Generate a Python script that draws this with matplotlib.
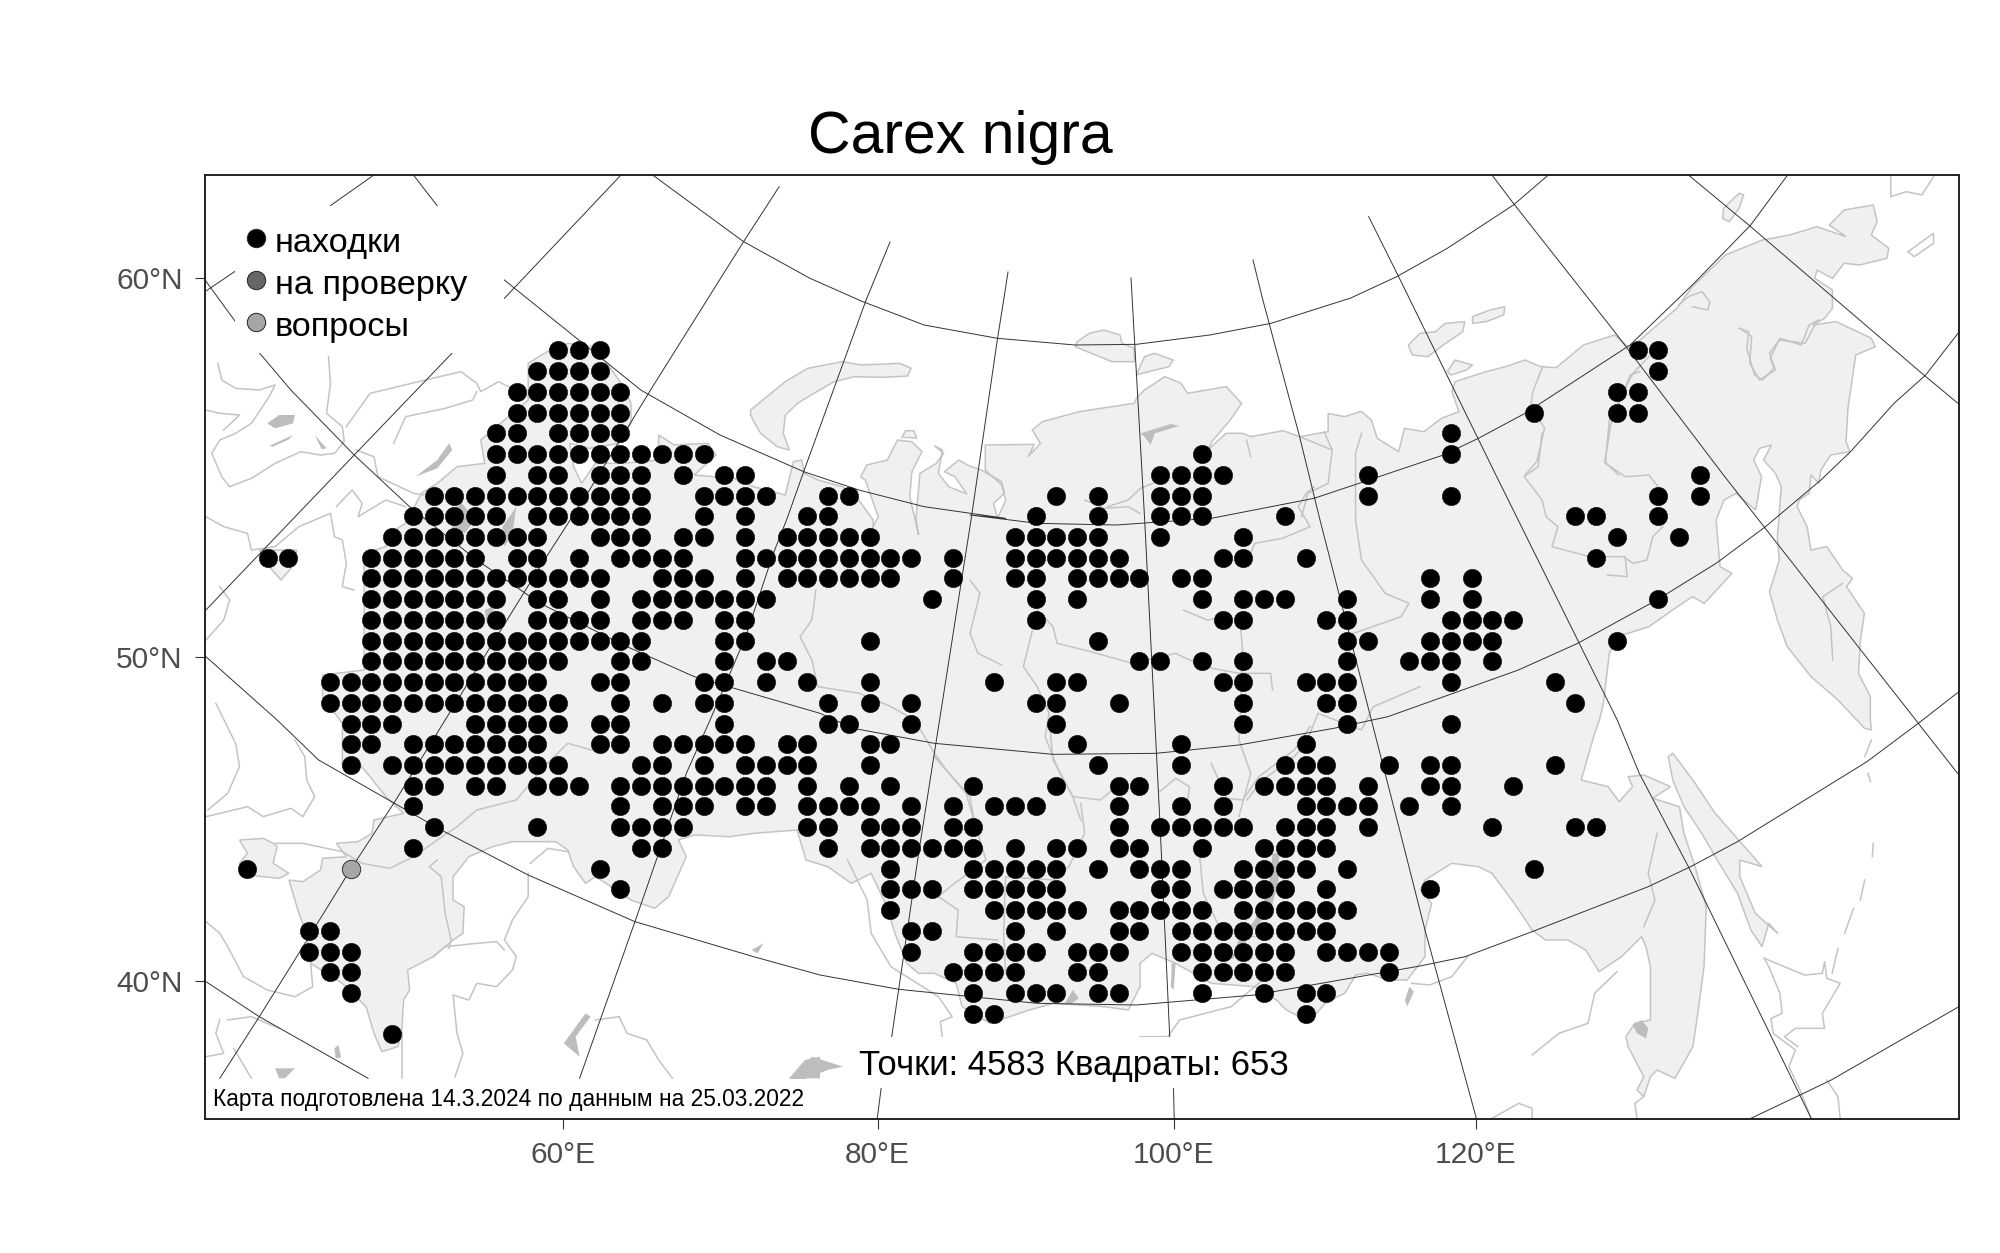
import matplotlib
matplotlib.use('Agg')
from matplotlib import pyplot as plt
from matplotlib.patches import Polygon, Rectangle

plt.rcParams['font.family'] = ['Liberation Sans', 'DejaVu Sans']

title = 'Carex nigra'
legend_labels = ['находки', 'на проверку', 'вопросы']
legend_colors = ['#000000', '#666666', '#a6a6a6']
count_text = 'Точки: 4583 Квадраты: 653'
date_text = 'Карта подготовлена 14.3.2024 по данным на 25.03.2022'

lon_labels = ['60°E', '80°E', '100°E', '120°E']
lon_ticks = [562.5, 877.5, 1173.5, 1476]
lat_labels = ['60°N', '50°N', '40°N']
lat_ticks = [278, 657, 981]

# occupied squares, one list of columns per row of the grid
row00 = [15, 16, 17, 67, 68]
row01 = [14, 15, 16, 17, 68]
row02 = [13, 14, 15, 16, 17, 18, 66, 67]
row03 = [13, 14, 15, 16, 17, 18, 62, 66, 67]
row04 = [12, 13, 15, 16, 17, 18, 58]
row05 = [12, 13, 14, 15, 16, 17, 18, 19, 20, 21, 22, 46, 58]
row06 = [12, 14, 15, 17, 18, 19, 21, 23, 24, 44, 45, 46, 47, 54, 70]
row07 = [9, 10, 11, 12, 13, 14, 15, 16, 17, 18, 19, 22, 23, 24, 25, 28, 29, 39, 41, 44, 45, 46, 54, 58, 68, 70]
row08 = [8, 9, 10, 11, 12, 14, 15, 16, 17, 18, 19, 22, 24, 27, 28, 38, 41, 44, 45, 46, 50, 64, 65, 68]
row09 = [7, 8, 9, 10, 11, 12, 13, 14, 17, 18, 19, 21, 22, 24, 26, 27, 28, 29, 30, 37, 38, 39, 40, 41, 44, 48, 66, 69]
row10 = [1, 2, 6, 7, 8, 9, 10, 11, 13, 14, 16, 18, 19, 20, 21, 24, 25, 26, 27, 28, 29, 30, 31, 32, 34, 37, 38, 39, 40, 41, 42, 47, 48, 51, 65]
row11 = [6, 7, 8, 9, 10, 11, 12, 13, 14, 15, 16, 17, 20, 21, 22, 24, 26, 27, 28, 29, 30, 31, 34, 37, 38, 40, 41, 42, 43, 45, 46, 57, 59]
row12 = [6, 7, 8, 9, 10, 11, 12, 14, 15, 17, 19, 20, 21, 22, 23, 24, 25, 33, 38, 40, 46, 48, 49, 50, 53, 57, 59, 68]
row13 = [6, 7, 8, 9, 10, 11, 12, 14, 15, 16, 17, 19, 20, 21, 23, 24, 38, 47, 48, 52, 53, 58, 59, 60, 61]
row14 = [6, 7, 8, 9, 10, 11, 12, 13, 14, 15, 16, 17, 18, 19, 23, 24, 30, 41, 53, 54, 57, 58, 59, 60, 66]
row15 = [6, 7, 8, 9, 10, 11, 12, 13, 14, 15, 18, 19, 23, 25, 26, 43, 44, 46, 48, 53, 56, 57, 58, 60]
row16 = [4, 5, 6, 7, 8, 9, 10, 11, 12, 13, 14, 17, 18, 22, 23, 25, 27, 30, 36, 39, 40, 47, 48, 51, 52, 53, 58, 63]
row17 = [4, 5, 6, 7, 8, 9, 10, 11, 12, 13, 14, 15, 18, 20, 22, 23, 28, 30, 32, 38, 39, 42, 48, 52, 53, 64]
row18 = [5, 6, 7, 11, 12, 13, 14, 15, 17, 18, 23, 28, 29, 32, 39, 48, 53, 58]
row19 = [5, 6, 8, 9, 10, 11, 12, 13, 14, 17, 18, 20, 21, 22, 23, 24, 26, 27, 30, 31, 40, 45, 51]
row20 = [5, 7, 8, 9, 10, 11, 12, 13, 14, 15, 19, 20, 22, 24, 25, 26, 27, 30, 41, 45, 50, 51, 52, 55, 57, 58, 63]
row21 = [8, 9, 11, 12, 14, 15, 16, 18, 19, 20, 21, 22, 23, 24, 25, 27, 29, 31, 35, 39, 42, 43, 47, 49, 50, 51, 52, 54, 57, 58, 61]
row22 = [8, 18, 20, 21, 22, 24, 25, 27, 28, 29, 30, 32, 34, 36, 37, 38, 42, 45, 47, 51, 52, 53, 54, 56, 58]
row23 = [9, 14, 18, 19, 20, 21, 27, 28, 30, 31, 32, 34, 35, 42, 44, 45, 46, 47, 48, 50, 51, 52, 54, 60, 64, 65]
row24 = [8, 19, 20, 28, 30, 31, 32, 33, 34, 35, 37, 39, 40, 42, 43, 46, 49, 50, 51, 52]
row25 = [0, 17, 31, 35, 36, 37, 38, 39, 41, 43, 44, 45, 48, 49, 50, 51, 53, 62]
row26 = [18, 31, 32, 33, 35, 36, 37, 38, 39, 44, 45, 47, 48, 49, 50, 52, 57]
row27 = [31, 36, 37, 38, 39, 40, 42, 43, 44, 45, 46, 48, 49, 50, 51, 52, 53]
row28 = [3, 4, 32, 33, 37, 39, 42, 43, 45, 46, 47, 48, 49, 50, 51, 52]
row29 = [3, 4, 5, 32, 35, 36, 37, 38, 40, 41, 42, 45, 46, 47, 48, 49, 50, 52, 53, 54, 55]
row30 = [4, 5, 34, 35, 36, 37, 40, 41, 46, 47, 48, 49, 50, 55]
row31 = [5, 35, 37, 38, 39, 41, 42, 46, 49, 51, 52]
row32 = [35, 36, 51]
row33 = [7]
found_rows = [row00, row01, row02, row03, row04, row05, row06, row07, row08, row09, row10, row11,
              row12, row13, row14, row15, row16, row17, row18, row19, row20, row21, row22, row23,
              row24, row25, row26, row27, row28, row29, row30, row31, row32, row33]
question_col = [5]
question_row = [25]

# crops the outlines were read from: left, top, width
Z1 = (200, 320, 620)
Z2 = (200, 700, 620)
Z3 = (800, 420, 620)
Z4 = (800, 720, 620)
Z5 = (1380, 320, 620)
Z6 = (1300, 700, 700)
Z7 = (190, 170, 620)
Z8 = (1350, 175, 610)
Z9 = (720, 300, 640)
Z10 = (200, 1020, 1200)


def crop(z, pts):
    return [(z[0] + p * z[2] / 1568, z[1] + q / 3) for p, q in pts]


land_main = (
    crop(Z1, [(885, 90), (930, 70), (990, 80), (1030, 130), (1065, 190), (1090, 250), (1090, 310), (1060, 370),
              (985, 385), (935, 370), (945, 440), (965, 490), (1000, 430), (1060, 430), (1120, 425), (1160, 420),
              (1160, 345), (1200, 375), (1285, 370), (1305, 405), (1250, 465), (1350, 475), (1400, 500), (1480, 525)])
    + crop(Z9, [(180, 485), (200, 480), (207, 520), (240, 540), (300, 560), (340, 600)])
    + crop(Z3, [(185, 300), (185, 322), (172, 350), (198, 290), (165, 180)])
    + crop(Z9, [(345, 530), (360, 495), (410, 480), (435, 420), (470, 425), (495, 455), (470, 515), (465, 590)])
    + crop(Z3, [(300, 345)])
    + crop(Z9, [(480, 655), (490, 520), (530, 490), (548, 460), (525, 437), (545, 450), (535, 520), (560, 560),
                (605, 582), (575, 530), (550, 515), (585, 480), (610, 497), (640, 510), (690, 545), (697, 580),
                (670, 610), (680, 655), (700, 600), (690, 555), (650, 510), (650, 435), (770, 433), (755, 470),
                (785, 430), (765, 390), (790, 365), (880, 335), (960, 320), (1015, 310), (1020, 295), (1040, 270),
                (1090, 230), (1130, 250), (1145, 280), (1240, 260), (1278, 310), (1250, 360), (1205, 425),
                (1195, 450), (1240, 400), (1280, 400), (1300, 410), (1380, 392), (1420, 410), (1490, 395),
                (1490, 340), (1530, 350), (1568, 335)])
    + crop(Z8, [(30, 710), (55, 735), (70, 790), (125, 830), (140, 760), (190, 770), (235, 730), (280, 710),
                (262, 650), (270, 620), (350, 590), (400, 575), (450, 555), (490, 575), (530, 578), (600, 510),
                (680, 480), (720, 520), (760, 480), (800, 440), (840, 400), (880, 335), (925, 285), (965, 240),
                (1060, 195), (1130, 180), (1200, 155), (1275, 185), (1232, 150), (1270, 105), (1345, 90),
                (1355, 140), (1340, 180), (1385, 220), (1380, 250), (1310, 270), (1270, 265), (1240, 310),
                (1200, 285), (1195, 310), (1240, 345), (1240, 400), (1220, 430), (1190, 450), (1250, 440),
                (1340, 490), (1350, 515), (1300, 540), (1290, 620), (1280, 700), (1275, 800), (1285, 830)])
    + crop(Z5, [(1140, 405), (1115, 450), (1110, 490), (1090, 465), (1085, 520), (1060, 540), (1055, 560),
                (1080, 620), (1090, 690), (1130, 680), (1170, 750), (1195, 775), (1180, 800), (1225, 880),
                (1215, 960), (1210, 1060), (1240, 1130), (1240, 1200)])
    + crop(Z6, [(1280, 90), (1265, 85), (1240, 50), (1205, 0)])
    + crop(Z5, [(1090, 1070), (1030, 980), (1005, 900), (985, 815), (1010, 720), (1005, 650), (1015, 500),
                (1000, 460), (970, 420), (990, 375), (960, 385), (945, 420), (965, 470), (950, 570), (900, 520),
                (870, 540), (850, 600), (860, 740), (890, 760), (820, 850), (790, 830), (740, 870), (680, 920),
                (600, 950), (580, 1000), (565, 1150), (555, 1200)])
    + crop(Z6, [(660, 100), (630, 240), (690, 260), (715, 305), (745, 260), (735, 230), (770, 225), (830, 260),
                (790, 295), (850, 320), (860, 400), (885, 500), (910, 620), (905, 800), (890, 950), (880, 1040),
                (840, 1135), (800, 1110), (785, 1130), (770, 1190), (755, 1170), (770, 1130), (735, 1040),
                (730, 1010), (750, 970), (785, 960), (785, 800), (775, 740), (765, 710), (720, 770), (670, 815),
                (640, 750), (600, 720), (550, 720), (520, 690), (480, 610), (430, 520), (400, 500), (340, 490),
                (280, 540), (270, 570), (295, 610), (280, 690), (280, 770), (240, 840), (200, 840), (150, 820),
                (125, 825), (100, 880), (60, 905), (20, 965)])
    + crop(Z4, [(1230, 870), (1205, 840), (1150, 800), (1040, 790), (950, 730), (890, 700), (860, 730), (860, 800),
                (830, 870), (770, 860), (640, 850), (580, 870), (530, 890), (480, 910), (410, 860), (395, 790),
                (340, 760), (300, 760), (270, 730), (240, 640), (220, 560), (180, 460), (130, 490), (70, 440),
                (15, 420)])
    + crop(Z2, [(1530, 470), (1510, 390), (1400, 400), (1340, 410), (1250, 405), (1210, 420), (1230, 470),
                (1185, 590), (1150, 625), (1090, 600), (1040, 560), (1000, 530), (975, 550), (945, 500), (930, 450),
                (900, 425), (790, 425), (740, 440), (680, 470), (640, 530), (640, 600), (668, 620), (665, 700),
                (640, 720), (590, 770), (525, 810), (530, 870), (515, 900), (510, 1000), (500, 1040), (460, 1055),
                (440, 1000), (420, 920), (360, 850), (280, 790), (270, 700), (250, 640), (230, 560), (225, 540),
                (260, 545), (305, 510), (310, 475), (370, 470), (345, 430), (400, 425), (435, 400), (440, 360),
                (515, 340), (470, 290), (430, 230), (405, 195), (360, 195), (360, 70)])
    + crop(Z1, [(310, 1130), (310, 1065), (415, 1050), (415, 700), (470, 680), (480, 640), (520, 610), (560, 520),
                (600, 490), (650, 440), (720, 430), (710, 360), (760, 310), (830, 240), (830, 130)])
)

land_islands = [
    crop(Z2, [(100, 420), (160, 415), (185, 430), (195, 440), (185, 490), (225, 520), (200, 535), (120, 525),
              (100, 490), (120, 460)]),
    crop(Z1, [(150, 690), (245, 690), (230, 745), (205, 780), (175, 740)]),
    crop(Z9, [(75, 330), (120, 285), (160, 245), (215, 205), (300, 185), (345, 195), (440, 190), (468, 205),
              (460, 228), (400, 232), (330, 230), (280, 245), (230, 280), (190, 310), (160, 345), (155, 400),
              (170, 450), (140, 440), (100, 400), (85, 370), (75, 345)]),
    crop(Z9, [(875, 125), (905, 100), (940, 90), (980, 105), (985, 130), (1015, 145), (1015, 185), (960, 185),
              (920, 165), (870, 140)]),
    crop(Z9, [(1020, 225), (1040, 170), (1065, 160), (1110, 180), (1100, 200), (1050, 215)]),
    crop(Z9, [(445, 412), (455, 392), (475, 392), (482, 414)]),
    crop(Z8, [(150, 510), (180, 475), (220, 470), (245, 445), (295, 440), (290, 470), (240, 510), (200, 545),
              (160, 540)]),
    crop(Z8, [(315, 425), (360, 405), (398, 395), (395, 420), (350, 440), (315, 445)]),
    crop(Z8, [(250, 590), (270, 555), (315, 570), (300, 585), (260, 600)]),
    crop(Z8, [(960, 100), (1000, 55), (1012, 60), (1000, 100), (975, 140), (958, 130)]),
    crop(Z6, [(825, 170), (835, 160), (880, 240), (930, 340), (1035, 500), (985, 480), (985, 530), (1020, 640),
              (1070, 700), (1050, 670), (1035, 740), (1010, 690), (980, 580), (930, 470), (900, 400), (860, 320),
              (835, 240)]),
]

lakes = [
    crop(Z1, [(170, 310), (200, 285), (240, 285), (235, 310), (190, 325)]),
    crop(Z1, [(175, 378), (235, 345), (225, 358), (185, 380)]),
    crop(Z1, [(290, 345), (320, 385), (308, 388)]),
    crop(Z1, [(545, 470), (600, 420), (630, 370), (638, 390), (600, 445)]),
    crop(Z1, [(625, 600), (660, 545), (695, 600), (670, 640), (640, 625)]),
    crop(Z1, [(765, 620), (800, 560), (790, 640), (770, 680)]),
    crop(Z1, [(720, 870), (740, 860), (745, 890), (725, 910)]),
    crop(Z2, [(920, 1030), (975, 940), (988, 950), (950, 1010), (960, 1070), (930, 1040)]),
    crop(Z2, [(190, 1105), (240, 1105), (215, 1135), (200, 1135)]),
    crop(Z2, [(340, 1045), (350, 1035), (357, 1072), (343, 1075)]),
    crop(Z2, [(1490, 1135), (1530, 1080), (1568, 1070), (1568, 1135)]),
    crop(Z2, [(1395, 750), (1425, 730), (1410, 760)]),
    crop(Z4, [(1195, 400), (1212, 400), (1210, 490), (1190, 570), (1140, 640), (1110, 700), (1090, 720),
              (1110, 660), (1150, 600), (1185, 510)]),
    crop(Z4, [(940, 730), (950, 730), (945, 810), (938, 800)]),
    crop(Z4, [(670, 850), (690, 810), (705, 835), (685, 852)]),
    crop(Z6, [(235, 900), (245, 860), (255, 875), (240, 920)]),
    crop(Z6, [(745, 975), (765, 960), (780, 985), (775, 1015), (755, 1000)]),
    crop(Z9, [(1030, 400), (1105, 372), (1125, 378), (1065, 400), (1055, 435), (1040, 410)]),
    crop(Z10, [(770, 177), (800, 110), (840, 140), (820, 150), (790, 177)]),
]

borders = [
    crop(Z1, [(45, 130), (55, 180), (90, 205), (150, 210), (190, 195), (175, 230), (130, 310), (90, 340), (50, 360),
              (30, 400), (55, 470), (75, 500), (130, 475), (190, 430), (255, 395), (305, 405), (340, 400), (365, 365),
              (360, 320), (320, 280), (330, 190), (325, 110)]),
    crop(Z1, [(15, 270), (50, 280), (100, 285), (60, 330)]),
    crop(Z1, [(370, 320), (430, 220), (500, 200), (570, 180), (660, 155), (700, 190), (710, 215), (755, 185), (830, 230)]),
    crop(Z1, [(490, 370), (520, 290), (620, 265), (690, 240), (700, 215)]),
    crop(Z1, [(395, 390), (440, 410), (450, 470), (540, 520), (565, 525)]),
    crop(Z1, [(15, 590), (60, 620), (120, 640), (130, 690), (190, 680), (250, 620), (330, 580), (340, 650), (360, 660),
              (370, 730), (360, 800), (390, 810)]),
    crop(Z1, [(345, 560), (385, 510), (410, 550), (400, 590), (470, 540), (520, 560)]),
    crop(Z1, [(15, 960), (60, 900), (75, 840), (50, 800)]),
    crop(Z2, [(40, 10), (90, 130), (100, 200), (70, 280), (20, 330)]),
    crop(Z2, [(240, 120), (265, 170), (270, 240), (290, 290), (260, 350), (230, 325), (160, 350), (120, 320), (15, 350)]),
    crop(Z2, [(190, 430), (260, 430), (360, 455), (410, 490), (480, 505), (540, 470), (600, 420), (650, 380), (700, 330),
              (800, 300), (870, 200), (930, 130), (990, 150)]),
    crop(Z2, [(15, 665), (50, 700), (70, 740), (110, 830), (170, 870), (240, 890), (285, 860), (280, 790)]),
    crop(Z2, [(600, 480), (580, 500), (610, 530), (620, 640), (635, 720), (630, 745)]),
    crop(Z2, [(835, 490), (880, 445), (930, 455)]),
    crop(Z2, [(830, 520), (830, 590), (790, 660), (770, 720), (800, 770), (790, 810), (750, 860), (700, 850),
              (680, 900), (640, 885), (650, 1000), (665, 1060), (645, 1130)]),
    crop(Z2, [(590, 770), (620, 740), (700, 730), (750, 725), (770, 750)]),
    crop(Z2, [(50, 960), (40, 1000), (60, 1060), (15, 1070)]),
    crop(Z2, [(70, 960), (130, 950), (200, 985)]),
    crop(Z2, [(85, 1045), (130, 1135)]),
    crop(Z2, [(510, 1000), (510, 1135)]),
    crop(Z2, [(1000, 960), (1060, 950), (1080, 1000), (1130, 1020), (1160, 1080), (1195, 1135)]),
    crop(Z4, [(120, 420), (170, 540), (180, 640), (230, 740), (350, 830), (385, 890), (355, 905), (360, 952)]),
    crop(Z4, [(860, 950), (930, 950), (960, 900), (1090, 860), (1170, 780)]),
    crop(Z3, [(40, 510), (30, 600), (0, 650), (30, 720), (45, 800), (150, 820), (230, 860), (290, 900), (340, 1000),
              (370, 1050), (430, 1130), (440, 1200)]),
    crop(Z3, [(430, 480), (455, 520), (430, 640), (450, 700), (510, 735)]),
    crop(Z3, [(600, 570), (640, 620), (650, 670), (720, 690), (840, 730), (950, 700), (1020, 740), (1110, 760),
              (1190, 760), (1195, 810)]),
    crop(Z3, [(590, 620), (565, 740), (600, 800), (630, 880), (620, 950), (650, 1040), (690, 1130), (710, 1200)]),
    crop(Z3, [(1115, 630), (1120, 700), (1110, 960), (1140, 1060), (1110, 1190)]),
    crop(Z3, [(1405, 300), (1420, 420), (1480, 520), (1540, 550), (1520, 590), (1400, 640), (1370, 680)]),
    crop(Z3, [(1405, 300), (1405, 100), (1420, 40)]),
    crop(Z3, [(970, 570), (1030, 600), (1090, 590)]),
    crop(Z3, [(1140, 400), (1150, 370), (1220, 355), (1290, 320), (1260, 260), (1280, 220), (1300, 200)]),
    crop(Z3, [(1568, 800), (1450, 860), (1420, 930), (1310, 880), (1280, 970), (1250, 1010), (1170, 1080), (1130, 1140)]),
    crop(Z3, [(860, 280), (830, 260), (770, 265), (720, 240)]),
    crop(Z4, [(630, 0), (640, 120), (690, 230), (760, 240), (790, 210)]),
    crop(Z4, [(710, 250), (720, 340), (680, 440), (640, 480), (520, 470), (515, 640), (520, 760)]),
    crop(Z4, [(340, 110), (420, 220), (440, 300), (470, 420), (380, 500), (350, 530), (400, 570), (395, 650), (500, 660)]),
    crop(Z4, [(910, 215), (950, 175), (985, 200), (975, 290)]),
    crop(Z4, [(1010, 400), (1020, 520), (1060, 620), (1150, 650)]),
    crop(Z4, [(1040, 130), (1080, 235), (1120, 240), (1160, 170), (1250, 90), (1290, 20)]),
    crop(Z8, [(1000, 460), (1025, 470), (1020, 520), (1040, 600), (1060, 615), (1090, 580), (1080, 550), (1105, 490),
              (1160, 510), (1180, 450), (1205, 435)]),
    crop(Z8, [(495, 575), (470, 650), (465, 690), (500, 760), (480, 860), (450, 900)]),
    crop(Z8, [(745, 590), (720, 600), (670, 750), (655, 860), (690, 900)]),
    crop(Z8, [(845, 390), (870, 365), (905, 350), (925, 380), (920, 405), (880, 395)]),
    crop(Z8, [(1390, 5), (1390, 65), (1430, 50), (1470, 60), (1500, 5)]),
    crop(Z8, [(1435, 230), (1470, 200), (1500, 175), (1500, 205), (1450, 245), (1435, 230)]),
    crop(Z5, [(365, 470), (400, 440), (410, 340)]),
    crop(Z5, [(365, 470), (410, 540), (420, 590), (450, 620), (435, 680), (530, 710), (615, 710), (640, 730), (675, 720),
              (690, 650), (715, 620)]),
    crop(Z5, [(575, 765), (625, 770), (620, 710)]),
    crop(Z5, [(570, 430), (580, 300), (640, 160), (680, 110)]),
    crop(Z5, [(570, 430), (620, 470), (680, 465), (710, 510)]),
    crop(Z5, [(910, 25), (940, 50), (935, 130), (960, 180), (1000, 150), (985, 100), (1010, 60), (1075, 70), (1100, 15)]),
    crop(Z5, [(1120, 830), (1170, 790)]),
    crop(Z5, [(1120, 830), (1140, 920), (1145, 1020)]),
    crop(Z6, [(800, 400), (780, 520), (795, 600), (770, 680)]),
    crop(Z6, [(520, 1065), (580, 1000), (645, 970), (660, 880), (710, 815)]),
    crop(Z6, [(430, 1255), (490, 1210), (520, 1225), (520, 1255)]),
    crop(Z6, [(755, 1255), (750, 1210), (770, 1190)]),
    crop(Z6, [(250, 850), (290, 855), (340, 830), (375, 770)]),
    crop(Z6, [(1040, 775), (1050, 800), (1075, 880), (1080, 940), (1055, 955), (1060, 1000), (1090, 1030), (1110, 1050),
              (1095, 1100), (1120, 1170), (1145, 1255)]),
    crop(Z6, [(1040, 775), (1130, 825), (1170, 820), (1175, 785), (1180, 835), (1210, 850), (1170, 940), (1175, 985),
              (1110, 985), (1085, 1010), (1115, 1040)]),
    crop(Z6, [(1210, 1255), (1205, 1190), (1180, 1140)]),
    crop(Z6, [(1280, 120), (1265, 170)]),
    crop(Z6, [(1272, 220), (1278, 245)]),
    crop(Z6, [(1284, 430), (1282, 470)]),
    crop(Z6, [(1265, 540), (1255, 600)]),
    crop(Z6, [(1240, 625), (1220, 700)]),
    crop(Z6, [(1205, 745), (1192, 820)]),
    crop(Z9, [(1480, 395), (1500, 450), (1490, 550), (1440, 580), (1425, 650)]),
    crop(Z9, [(1290, 420), (1300, 470)]),
    crop(Z9, [(1420, 410), (1500, 450)]),
    crop(Z9, [(950, 620), (1000, 600), (1030, 565), (1060, 550)]),
]

parallels = [
    crop(Z7, [(1170, 15), (1400, 215), (1568, 325)]) + crop(Z9, [(350, 5), (500, 75), (680, 115), (870, 135), (1020, 133),
                                                               (1200, 105), (1350, 70), (1530, 0)])
    + crop(Z8, [(0, 370), (120, 305), (250, 220), (420, 90), (510, 0)]),
    crop(Z7, [(565, 15), (625, 107)]),
    crop(Z7, [(795, 330), (1140, 660)]) + crop(Z9, [(0, 405), (205, 515), (340, 570), (500, 620), (700, 655)])
    + crop(Z3, [(430, 285), (600, 310), (800, 315), (1040, 295), (1300, 235)])
    + crop(Z8, [(100, 895), (240, 840), (330, 790), (450, 715), (720, 510), (880, 330), (1030, 150), (1125, 0)]),
    crop(Z7, [(38, 330), (115, 455)]),
    crop(Z7, [(175, 548), (255, 660)]) + crop(Z1, [(390, 405), (530, 560), (700, 720), (860, 850), (1080, 980), (1250, 1070),
                                                   (1568, 1180)])
    + crop(Z3, [(135, 925), (340, 970), (640, 1003), (900, 1000), (1110, 975), (1350, 925)])
    + crop(Z5, [(20, 1190), (350, 1050), (500, 970), (700, 840), (850, 730), (975, 620), (1115, 480), (1190, 395),
                (1300, 250), (1380, 165), (1465, 35)]),
    crop(Z1, [(15, 1010), (195, 1200)]) + crop(Z2, [(300, 180), (610, 390), (830, 525), (1100, 665), (1400, 770), (1568, 825)])
    + crop(Z4, [(250, 808), (600, 850), (850, 855), (1150, 825), (1568, 738)])
    + crop(Z6, [(370, 770), (520, 695), (780, 560), (875, 500), (980, 425), (1270, 185), (1385, 70), (1476, -25)]),
    crop(Z2, [(15, 845), (150, 950), (425, 1135)]),
    crop(Z6, [(1010, 1255), (1120, 1185), (1190, 1140), (1476, 920)]),
]

meridians = [
    crop(Z7, [(38, 365), (115, 303)]),
    crop(Z7, [(355, 107), (465, 15)]),
    crop(Z7, [(1090, 15), (795, 385)]),
    crop(Z1, [(637, 100), (390, 405), (15, 870)]),
    crop(Z7, [(1490, 50), (1400, 215), (1170, 650)]) + crop(Z1, [(985, 510), (860, 740), (620, 1200)])
    + crop(Z2, [(490, 310), (380, 510), (250, 760), (150, 950), (50, 1135)]),
    [(890, 242)] + crop(Z9, [(358, 0), (205, 515), (163, 660)]) + crop(Z1, [(1450, 700), (1380, 950), (1290, 1200)])
    + crop(Z2, [(1230, 220), (1100, 665), (960, 1135)]),
    [(1008, 272)] + crop(Z9, [(695, 0), (680, 115), (615, 660)]) + crop(Z3, [(345, 960)]) + crop(Z4, [(300, 400), (232, 950)]),
    crop(Z10, [(890, 205), (885, 295)]),
    [(1131, 278)] + crop(Z9, [(1010, 0), (1040, 650)]) + crop(Z3, [(910, 1200)]) + crop(Z4, [(935, 950)]),
    crop(Z10, [(1272, 205), (1273, 295)]),
    [(1253, 260)] + crop(Z9, [(1330, 0), (1420, 410), (1470, 660)]) + crop(Z3, [(1510, 1200)]) + crop(Z6, [(280, 690), (395, 1255)]),
    crop(Z8, [(48, 125), (125, 305), (375, 900)]) + crop(Z5, [(600, 1200)]) + crop(Z6, [(760, 220), (870, 500), (1145, 1255)]),
    crop(Z8, [(365, 0), (420, 85), (680, 470), (960, 900)]) + crop(Z5, [(1110, 830), (1355, 1200)]) + crop(Z6, [(1385, 70), (1476, 225)]),
    crop(Z8, [(870, 0), (1025, 150), (1240, 365), (1475, 600), (1568, 690)]),
]

# areas of the map that are blanked behind the texts: left, top, right, bottom
legend_box = (235, 205.5, 504, 353)
date_box = (205, 1079, 856, 1119)
count_box = (858, 1037, 1294, 1088)

grid_x0, grid_y0, grid_step_x, grid_step_y = 246.8, 350.4, 20.76, 20.73

fig = plt.figure(figsize=(20, 12.53), dpi=100)
ax = fig.add_axes([205 / 2000, 1 - 1119 / 1253, (1959 - 205) / 2000, (1119 - 175) / 1253])
ax.set_xlim(205, 1959)
ax.set_ylim(1119, 175)

ax.add_patch(Polygon(land_main, closed=True, facecolor='#f0f0f0', edgecolor='#c4c4c4', lw=1.1, zorder=1))
for isl in land_islands:
    ax.add_patch(Polygon(isl, closed=True, facecolor='#f0f0f0', edgecolor='#c4c4c4', lw=1.1, zorder=1))
for b in borders:
    ax.plot([p[0] for p in b], [p[1] for p in b], color='#c4c4c4', lw=1.1, zorder=2)
for lk in lakes:
    ax.add_patch(Polygon(lk, closed=True, facecolor='#bdbdbd', edgecolor='none', zorder=2))
for g in parallels + meridians:
    ax.plot([p[0] for p in g], [p[1] for p in g], color='#333333', lw=0.7, zorder=3)

for box in [legend_box, date_box, count_box]:
    ax.add_patch(Rectangle((box[0], box[1]), box[2] - box[0], box[3] - box[1], facecolor='white', edgecolor='none', zorder=4))

# the points
xs, ys = [], []
for r, cols in enumerate(found_rows):
    for c in cols:
        xs.append(grid_x0 + c * grid_step_x)
        ys.append(grid_y0 + r * grid_step_y)
ax.scatter(xs, ys, s=175, c='black', edgecolors='#111111', linewidths=0.4, zorder=5)
ax.scatter([grid_x0 + c * grid_step_x for c in question_col], [grid_y0 + r * grid_step_y for r in question_row],
           s=175, c=legend_colors[2], edgecolors='#333333', linewidths=0.7, zorder=5)

# legend
legend_y = [237.7, 280, 321.7]
for lab, col, y in zip(legend_labels, legend_colors, legend_y):
    ax.scatter([255.6], [y], s=175, c=col, edgecolors='#222222', linewidths=0.7, zorder=6)
    ax.text(275, y + 14, lab, fontsize=24.7, color='black', va='baseline', ha='left', zorder=6)

ax.text(859, 1075, count_text, fontsize=25, color='black', va='baseline', ha='left', zorder=6)
ax.text(213, 1106, date_text, fontsize=16.4, color='black', va='baseline', ha='left', zorder=6)

ax.set_xticks(lon_ticks)
ax.set_xticklabels(lon_labels)
ax.set_yticks(lat_ticks)
ax.set_yticklabels(lat_labels)
ax.tick_params(axis='both', length=7, width=0.8, color='#333333', labelcolor='#4d4d4d', labelsize=21.5, pad=9)
for s in ax.spines.values():
    s.set_linewidth(1.4)
    s.set_color('#222222')
    s.set_zorder(10)

fig.text(960 / 2000, 1 - 153 / 1253, title, fontsize=42.4, ha='center', va='baseline', color='black')

fig.savefig('out.png', dpi=100, facecolor='white')
